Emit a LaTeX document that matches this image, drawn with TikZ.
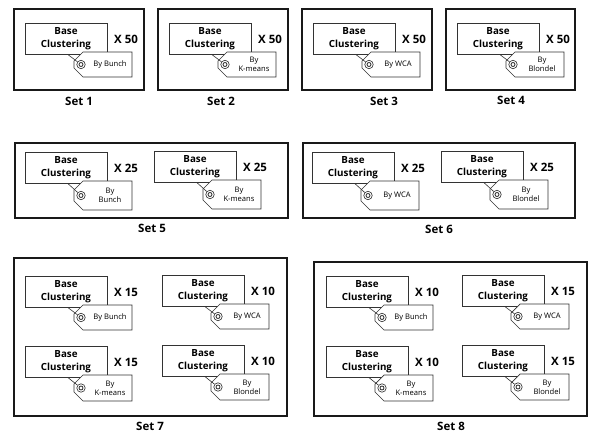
\documentclass[tikz,border=0pt]{standalone}
\usepackage{fontspec}
\setmainfont{Open Sans}
\begin{document}
\begin{tikzpicture}[x=1pt,y=-1pt,
  setframe/.style={draw=black!90, line width=1.3pt},
  basebox/.style={draw=black!80, line width=0.7pt, fill=white,
    minimum width=82pt, minimum height=31pt, inner sep=0pt, align=center,
    font=\bfseries\fontsize{9.8}{12.8}\selectfont},
  tagshape/.style={draw=black!80, line width=0.7pt, fill=white, line join=miter},
  tagtext/.style={font=\fontsize{7.6}{9.2}\selectfont, align=center, inner sep=0pt},
  multlabel/.style={font=\bfseries\fontsize{11.5}{13}\selectfont, inner sep=0pt},
  setlabel/.style={font=\bfseries\fontsize{11.5}{13}\selectfont, inner sep=0pt},
  ringnode/.style={circle, draw=black!85, minimum size=8.4pt, inner sep=0pt, line width=0.6pt},
  tagstring/.style={draw=black!80, line width=0.6pt}]

\useasboundingbox (0,0) rectangle (590,434);

% one "Base Clustering" box with its multiplier and the method tag hanging below
% #1 id, #2 x, #3 y (top-left of the box), #4 multiplier, #5 tag text, #6 tag height
\newcommand{\clusterunit}[6]{%
  \node[basebox] (#1-base) at (#2+41, #3+15.5) {Base\\Clustering};
  \node[multlabel] (#1-mult) at (#2+101, #3+16.5) {X #4};
  \path[tagshape] (#2+58, #3+29) -- (#2+107, #3+29) -- (#2+107, #3+29+#6)
     -- (#2+58, #3+29+#6) -- (#2+49, #3+20+#6) -- (#2+49, #3+38) -- cycle;
  \node[tagtext] (#1-tag) at (#2+85, #3+29+#6/2) {#5};
  \node[ringnode] (#1-ring) at (#2+56, #3+29+#6/2) {};
  \draw[black!85, line width=0.8pt] (#1-ring.center) circle[radius=2pt];
  \coordinate (#1-knot) at ([xshift=43pt]#1-base.south west);
  \draw[tagstring] (#1-knot) -- (#1-ring);
}

% frames of the eight sets
\draw[setframe] (14,9) rectangle (144,90);
\draw[setframe] (158,9) rectangle (288,90);
\draw[setframe] (302,9) rectangle (432,90);
\draw[setframe] (446,9) rectangle (575,90);
\draw[setframe] (15,143) rectangle (288,218);
\draw[setframe] (303,143) rectangle (575,218);
\draw[setframe] (14,258) rectangle (287,416);
\draw[setframe] (314,262) rectangle (587,416);

% set 1 to 4
\clusterunit{s1}{25}{23}{50}{By Bunch}{25}
\clusterunit{s2}{169}{23}{50}{By\\K-means}{25}
\clusterunit{s3}{313}{23}{50}{By WCA}{25}
\clusterunit{s4}{457}{23}{50}{By\\Blondel}{25}

% set 5 and 6
\clusterunit{s5a}{25}{152}{25}{By\\Bunch}{29}
\clusterunit{s5b}{154}{151}{25}{By\\K-means}{29}
\clusterunit{s6a}{312}{152}{25}{By WCA}{29}
\clusterunit{s6b}{441}{151}{25}{By\\Blondel}{29}

% set 7
\clusterunit{s7a}{25}{276}{15}{By Bunch}{25}
\clusterunit{s7b}{162}{275}{10}{By WCA}{25}
\clusterunit{s7c}{25}{346}{15}{By\\K-means}{26}
\clusterunit{s7d}{162}{345}{10}{By\\Blondel}{26}

% set 8
\clusterunit{s8a}{326}{276}{10}{By Bunch}{25}
\clusterunit{s8b}{462}{275}{15}{By WCA}{25}
\clusterunit{s8c}{326}{346}{10}{By\\K-means}{26}
\clusterunit{s8d}{462}{345}{15}{By\\Blondel}{26}

% captions
\node[setlabel] (set1) at (79,101) {Set 1};
\node[setlabel] (set2) at (221,101) {Set 2};
\node[setlabel] (set3) at (384,101) {Set 3};
\node[setlabel] (set4) at (511,100) {Set 4};
\node[setlabel] (set5) at (152,228) {Set 5};
\node[setlabel] (set6) at (439,229) {Set 6};
\node[setlabel] (set7) at (150,426) {Set 7};
\node[setlabel] (set8) at (451,426) {Set 8};
\end{tikzpicture}
\end{document}
